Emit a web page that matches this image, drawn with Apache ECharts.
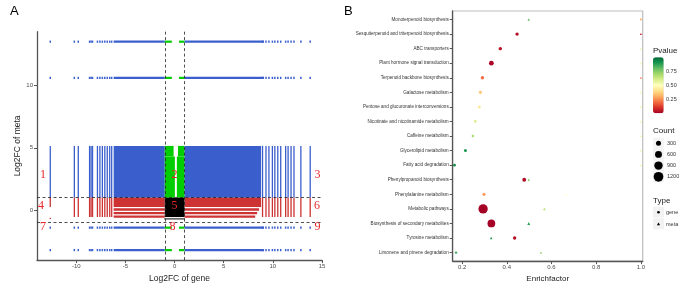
<!DOCTYPE html>
<html>
<head>
<meta charset="utf-8">
<script src="https://cdn.jsdelivr.net/npm/echarts@6/dist/echarts.min.js"></script>
<style>
  html, body { margin: 0; padding: 0; background: #fff; }
  #chart { width: 685px; height: 288px; }
</style>
</head>
<body>
<div id="chart"></div>
<script>
// ---- panel A: nine-quadrant plot ----
const rowY = [13.5, 10.6, -1.4, -3.2];
const colX = [-12.65, -10.2, -9.8, -8.65, -8.5, -8.35, -7.85, -7.6, -7.35, -7.1, -6.85, -6.6, -6.4,
  8.95, 9.3, 9.6, 9.95, 10.2, 10.5, 10.8, 11.3, 11.55, 11.85, 12.15, 12.85, 13.8];
const rowBlue = [[-6.2, -1], [1, 9.1]];
const rowGreen = [[-1, -0.28], [0.45, 1]];
// blocks: [x0, x1, y0, y1]
const blueBlocks = [[-6.2, -1, 1, 5.15], [1, 8.8, 1, 5.15]];
const greenBlocks = [[-1, -0.1, 4.3, 5.15], [0.35, 1, 4.3, 5.15], [-1, 0.03, 1, 4.3], [0.23, 1, 1, 4.3]];
const redBlocks = [
  [-6.2, -1, 0.25, 1], [-6.2, -1, -0.05, 0.16], [-6.2, -1, -0.33, -0.14], [-6.2, -1, -0.6, -0.42],
  [1, 8.8, 0.25, 1], [1, 8.6, -0.05, 0.16], [1, 8.4, -0.33, -0.14], [1, 8.2, -0.6, -0.42]
];
const blackBlocks = [[-1, 1, -0.55, 1], [-1.05, 1.05, -0.74, -0.66]];
const zoneLabels = [["1", -13.4, 2.8], ["2", 0, 2.8], ["3", 14.55, 2.8],
  ["4", -13.6, 0.37], ["5", 0, 0.37], ["6", 14.5, 0.37],
  ["7", -13.4, -1.37], ["8", -0.2, -1.37], ["9", 14.55, -1.37]];
const cutX = [-1, 1], cutY = [1, -1];

// ---- panel B: enrichment dots ----
const pathways = ["Monoterpenoid biosynthesis", "Sesquiterpenoid and triterpenoid biosynthesis", "ABC transporters",
  "Plant hormone signal transduction", "Terpenoid backbone biosynthesis", "Galactose metabolism",
  "Pentose and glucuronate interconversions", "Nicotinate and nicotinamide metabolism", "Caffeine metabolism",
  "Glycerolipid metabolism", "Fatty acid degradation", "Phenylpropanoid biosynthesis", "Phenylalanine metabolism",
  "Metabolic pathways", "Biosynthesis of secondary metabolites", "Tyrosine metabolism", "Limonene and pinene degradation"];
const geneX = [1.0, 0.446, 0.371, 0.331, 0.291, 0.282, 0.277, 0.259, 0.248, 0.215, 0.166, 0.478, 0.298, 0.294, 0.331, 0.435, 0.173];
const geneP = [0.3, 0.03, 0.04, 0.01, 0.2, 0.35, 0.43, 0.6, 0.7, 0.9, 0.93, 0.02, 0.27, 0.0, 0.0, 0.03, 0.85];
const geneCount = [30, 130, 130, 270, 130, 110, 100, 80, 60, 100, 80, 170, 110, 1100, 750, 130, 60];
const metaX = [0.498, 1.0, 1.0, 1.0, 1.0, 1.0, 1.0, 1.0, 1.0, 1.0, 1.0, 0.498, 0.666, 0.568, 0.498, 0.33, 0.553];
const metaP = [0.8, 0.05, 0.55, 0.55, 0.2, 0.55, 0.55, 0.55, 0.55, 0.55, 0.55, 0.75, 0.5, 0.65, 0.88, 0.9, 0.72];
const metaCount = [60, 40, 30, 30, 40, 30, 30, 30, 30, 30, 30, 60, 40, 90, 90, 60, 60];
const countBreaks = [300, 600, 900, 1200];
const pTicks = [0.75, 0.5, 0.25];

const palette = ["#a50026", "#d73027", "#f46d43", "#fdae61", "#fee08b", "#ffffbf",
  "#d9ef8b", "#a6d96a", "#66bd63", "#1a9850", "#006837"];
const BLUE = "#3a5fcd", RED = "#cd3333", GREEN = "#00cd00";
const FONT = "Liberation Sans";

function sizeOf(c) {
  return Math.max(2, 0.3 + 0.2714 * Math.sqrt(c));
}

function blockItem(params, api) {
  let a = api.coord([api.value(0), api.value(3)]),
    b = api.coord([api.value(1), api.value(2)]);
  return { type: "rect", shape: { x: a[0], y: a[1], width: b[0] - a[0], height: b[1] - a[1] },
    style: { fill: api.visual("color") } };
}
function colItem(params, api) {
  let a = api.coord([api.value(0), api.value(2)]),
    b = api.coord([api.value(0), api.value(1)]);
  return { type: "rect", shape: { x: a[0] - 0.65, y: a[1], width: 1.3, height: Math.max(1.3, b[1] - a[1]) },
    style: { fill: api.visual("color") } };
}
function segItem(params, api) {
  let a = api.coord([api.value(0), api.value(2)]),
    b = api.coord([api.value(1), api.value(2)]);
  return { type: "rect", shape: { x: a[0], y: a[1] - 1.1, width: b[0] - a[0], height: 2.2 },
    style: { fill: api.visual("color") } };
}
// region numbers as plain text elements
function numItem(params, api) {
  let p = api.coord([api.value(0), api.value(1)]);
  return { type: "text", x: p[0], y: p[1],
    style: { text: zoneLabels[params.dataIndex][0], fill: "#e8262a", fontFamily: "Liberation Serif",
      fontSize: 12, align: "center", verticalAlign: "middle" } };
}

function blocks(name, data, color) {
  return { name: name, type: "custom", xAxisIndex: 0, yAxisIndex: 0, renderItem: blockItem,
    encode: { x: [0, 1], y: [2, 3] }, itemStyle: { color: color }, data: data, silent: true };
}

let blueCols = colX.map(x => [x, 1, 5.15]),
  redCols = colX.map(x => (x === -12.65 ? [x, 0.25, 1] : [x, -0.55, 1])),
  rowDots = [],
  blueSegs = [],
  greenSegs = [];
redCols.push([-12.65, -0.7, -0.6]);
rowY.forEach(y => {
  colX.forEach(x => rowDots.push([x, y]));
  rowBlue.forEach(s => blueSegs.push([s[0], s[1], y]));
  rowGreen.forEach(s => greenSegs.push([s[0], s[1], y]));
});

let series = [
  blocks("blue", blueBlocks, BLUE),
  blocks("green", greenBlocks, GREEN),
  blocks("red", redBlocks, RED),
  blocks("black", blackBlocks, "#000"),
  { type: "custom", renderItem: colItem, encode: { x: 0, y: [1, 2] }, itemStyle: { color: BLUE }, data: blueCols, silent: true },
  { type: "custom", renderItem: colItem, encode: { x: 0, y: [1, 2] }, itemStyle: { color: RED }, data: redCols, silent: true },
  { type: "scatter", symbol: "rect", symbolSize: [1.5, 2.2], itemStyle: { color: BLUE, opacity: 1 }, data: rowDots, silent: true },
  { type: "custom", renderItem: segItem, encode: { x: [0, 1], y: 2 }, itemStyle: { color: BLUE }, data: blueSegs, silent: true },
  { type: "custom", renderItem: segItem, encode: { x: [0, 1], y: 2 }, itemStyle: { color: GREEN }, data: greenSegs, silent: true },
  {
    type: "custom", renderItem: numItem, silent: true, zlevel: 1, clip: false,
    encode: { x: 0, y: 1 },
    data: zoneLabels.map(d => [d[1], d[2]]),
    markLine: {
      silent: true, symbol: "none", label: { show: false },
      lineStyle: { type: [3, 2.5], color: "#222", width: 0.8 },
      data: cutX.map(v => ({ xAxis: v })).concat(cutY.map(v => ({ yAxis: v })))
    }
  },
  {
    name: "gene", type: "scatter", xAxisIndex: 1, yAxisIndex: 1, symbol: "circle",
    symbolSize: v => sizeOf(v[3]), itemStyle: { opacity: 1 },
    data: pathways.map((p, i) => [geneX[i], i, geneP[i], geneCount[i]])
  },
  {
    name: "meta", type: "scatter", xAxisIndex: 1, yAxisIndex: 1, symbol: "triangle",
    symbolSize: v => sizeOf(v[3]), itemStyle: { opacity: 1 },
    data: pathways.map((p, i) => [metaX[i], i, metaP[i], metaCount[i]])
  }
];

let axisLine = { show: true, onZero: false, lineStyle: { color: "#555", width: 1.3 } },
  axisTick = { show: true, length: 3, lineStyle: { color: "#555", width: 1 } },
  tickLabel = { color: "#4d4d4d", fontSize: 6, fontFamily: FONT };

// legends of panel B
let graphic = [
  { type: "text", left: 10, top: 5, style: { text: "A", fontSize: 13, fontFamily: FONT, fill: "#000" } },
  { type: "text", left: 344, top: 5, style: { text: "B", fontSize: 13, fontFamily: FONT, fill: "#000" } },
  { type: "text", x: 653, y: 51, style: { text: "Pvalue", fontSize: 8, fontFamily: FONT, fill: "#222", verticalAlign: "middle" } },
  { type: "text", x: 653, y: 131, style: { text: "Count", fontSize: 8, fontFamily: FONT, fill: "#222", verticalAlign: "middle" } },
  { type: "text", x: 653, y: 201, style: { text: "Type", fontSize: 8, fontFamily: FONT, fill: "#222", verticalAlign: "middle" } }
];
pTicks.forEach(t => {
  let y = 113.3 - t * 56;
  graphic.push({ type: "text", x: 666, y: y, style: { text: t.toFixed(2), fontSize: 5.5, fontFamily: FONT, fill: "#333", verticalAlign: "middle" } });
});
let keyY = [143.3, 154.4, 165.6, 176.8];
countBreaks.forEach((c, i) => {
  let d = sizeOf(c);
  graphic.push({ type: "rect", shape: { x: 653, y: keyY[i] - 5.5, width: 11, height: 11 }, style: { fill: "#f4f4f4" } });
  graphic.push({ type: "circle", shape: { cx: 658.5, cy: keyY[i], r: d / 2 }, style: { fill: "#000" } });
  graphic.push({ type: "text", x: 667, y: keyY[i], style: { text: String(c), fontSize: 5.5, fontFamily: FONT, fill: "#333", verticalAlign: "middle" } });
});
graphic.push({ type: "rect", shape: { x: 653, y: 206.5, width: 11, height: 11 }, style: { fill: "#f2f2f2" } });
graphic.push({ type: "rect", shape: { x: 653, y: 218.3, width: 11, height: 11 }, style: { fill: "#f2f2f2" } });
graphic.push({ type: "circle", shape: { cx: 658.5, cy: 212.2, r: 1.3 }, style: { fill: "#000" } });
graphic.push({ type: "polygon", shape: { points: [[658.5, 222.4], [660.1, 225.2], [656.9, 225.2]] }, style: { fill: "#000" } });
graphic.push({ type: "text", x: 666, y: 212.2, style: { text: "gene", fontSize: 5.5, fontFamily: FONT, fill: "#333", verticalAlign: "middle" } });
graphic.push({ type: "text", x: 666, y: 224, style: { text: "meta", fontSize: 5.5, fontFamily: FONT, fill: "#333", verticalAlign: "middle" } });

let option = {
  animation: false,
  textStyle: { fontFamily: FONT },
  grid: [
    { left: 37, top: 31.7, width: 285, height: 234.3 },
    { left: 452.7, top: 11, width: 190, height: 254.3, show: true, borderColor: "#bdbdbd", borderWidth: 1.2 }
  ],
  xAxis: [
    {
      type: "value", gridIndex: 0, min: -14, max: 15,
      name: "Log2FC of gene", nameLocation: "middle", nameGap: 7,
      nameTextStyle: { fontSize: 8.5, color: "#222", verticalAlign: "top" },
      axisLine: axisLine, axisTick: Object.assign({ customValues: [-10, -5, 0, 5, 10, 15] }, axisTick),
      axisLabel: Object.assign({ customValues: [-10, -5, 0, 5, 10, 15], margin: 3 }, tickLabel),
      splitLine: { show: false }
    },
    {
      type: "value", gridIndex: 1, min: 0.158, max: 1.008,
      name: "Enrichfactor", nameLocation: "middle", nameGap: 9,
      nameTextStyle: { fontSize: 8, color: "#222", verticalAlign: "top" },
      axisLine: axisLine, axisTick: Object.assign({ customValues: [0.2, 0.4, 0.6, 0.8, 1.0] }, axisTick),
      axisLabel: Object.assign({ customValues: [0.2, 0.4, 0.6, 0.8, 1.0], margin: 3, formatter: v => v.toFixed(1) }, tickLabel),
      splitLine: { show: false }
    }
  ],
  yAxis: [
    {
      type: "value", gridIndex: 0, min: -4, max: 14.3,
      name: "Log2FC of meta", nameLocation: "middle", nameGap: 8,
      nameTextStyle: { fontSize: 8.5, color: "#222" },
      axisLine: axisLine, axisTick: Object.assign({ customValues: [0, 5, 10] }, axisTick),
      axisLabel: Object.assign({ customValues: [0, 5, 10], margin: 4 }, tickLabel),
      splitLine: { show: false }
    },
    {
      type: "value", gridIndex: 1, min: -0.585, max: 16.585, inverse: true,
      axisLine: axisLine,
      axisTick: Object.assign({ customValues: pathways.map((p, i) => i) }, axisTick),
      axisLabel: { customValues: pathways.map((p, i) => i), formatter: v => pathways[v] || "",
        fontSize: 4.6, color: "#333", fontFamily: FONT, margin: 4 },
      splitLine: { show: false }
    }
  ],
  visualMap: {
    type: "continuous", seriesIndex: [10, 11], dimension: 2, min: 0, max: 1,
    inRange: { color: palette }, calculable: false, hoverLink: false,
    left: 653, top: 57.3, itemWidth: 10.7, itemHeight: 56, padding: 0, text: null
  },
  graphic: graphic,
  series: series
};

let myChart = echarts.init(document.getElementById("chart"));
myChart.setOption(option);
</script>
</body>
</html>
